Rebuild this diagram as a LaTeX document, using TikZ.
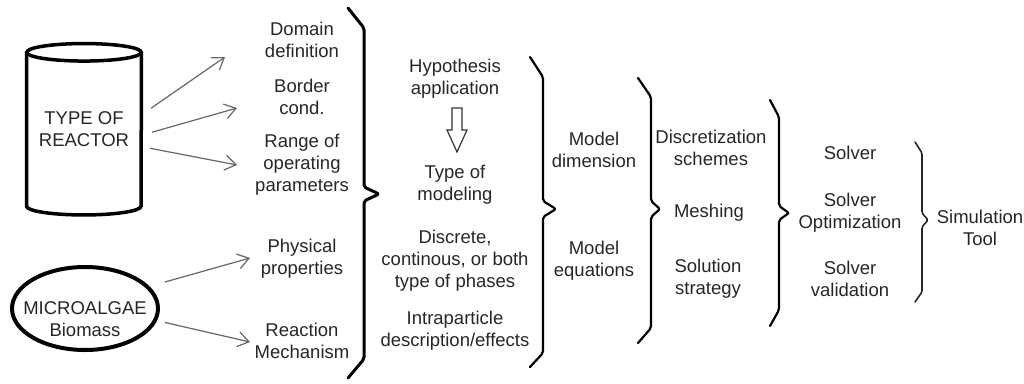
\documentclass[tikz,border=0pt]{standalone}
\usepackage{fontspec}
\setmainfont{Liberation Sans}
\usetikzlibrary{arrows.meta,shapes.geometric,calc}
\begin{document}
\begin{tikzpicture}[x=1pt,y=-1pt,
  txt/.style={font=\fontsize{18.5}{22}\selectfont, align=center, inner sep=0pt, text=black!85},
  arr/.style={draw=black!60, line width=1.2pt, -{Straight Barb[length=11pt,width=15pt,line width=1.2pt]}},
  brace1/.style={draw=black, line width=3pt, rounded corners=2pt, line cap=round, line join=round},
  brace2/.style={draw=black, line width=2.2pt, rounded corners=2pt, line cap=round, line join=round},
  brace3/.style={draw=black!85, line width=1.6pt, rounded corners=1.5pt, line cap=round, line join=round},
  thickline/.style={draw=black, line width=3.5pt}]
\useasboundingbox (0,0) rectangle (1024,383);

% Type of reactor (cylinder)
\node[txt, minimum width=114.5pt, minimum height=153.5pt] (reactor) at (84,129.25) {TYPE OF\\REACTOR};
\draw[thickline] (reactor.north west) -- (reactor.south west)
  arc[start angle=180, end angle=360, x radius=57.25pt, y radius=8.75pt] -- (reactor.north east);
\draw[thickline] (reactor.north) ellipse[x radius=57.25pt, y radius=8.75pt];

% Microalgae ellipse
\node[ellipse, draw=black, line width=4pt, minimum width=146pt, minimum height=83pt, inner sep=0pt] (algae) at (85,308.5) {};
\node[txt] (algaetext) at (85,319) {MICROALGAE\\Biomass};

% Column 1
\node[txt] (domain) at (302,40) {Domain\\definition};
\node[txt] (border) at (302,97) {Border\\cond.};
\node[txt] (range) at (302,165) {Range of\\operating\\parameters};
\node[txt] (phys) at (302,259) {Physical\\properties};
\node[txt] (reaction) at (302,341) {Reaction\\Mechanism};

% Arrows
\draw[arr] ($(reactor)+(67,-21)$) -- ($(domain)+(-77,17)$);
\draw[arr] ($(reactor)+(68,3)$) -- ($(border)+(-65,11)$);
\draw[arr] ($(reactor)+(66,19)$) -- ($(range)+(-65,0)$);
\draw[arr] ($(algae)+(80,-26.5)$) -- ($(phys)+(-52,-1)$);
\draw[arr] ($(algae)+(80,14)$) -- ($(reaction)+(-52,1)$);

% Brace 1
\draw[brace1] (348,8) -- (364,28) -- (364,187) -- (379,194) -- (364,201) -- (364,359) -- (348,378);

% Column 2
\node[txt] (hyp) at (455,79) {Hypothesis\\application};
\node[txt] (typeof) at (455,185) {Type of\\modeling};
\node[txt] (discrete) at (455,261) {Discrete,\\continous, or both\\type of phases};
\node[txt] (intra) at (455,331) {Intraparticle\\description/effects};
\draw[draw=black!80, line width=1.2pt, line join=miter]
  (452,108) -- (462,108) -- (462,130) -- (467,130) -- (457,152) -- (447,130) -- (452,130) -- cycle;

% Brace 2
\draw[brace2] (530,57) -- (543,77) -- (543,201) -- (556,209) -- (543,217) -- (543,353) -- (530,367);

% Column 3
\node[txt] (mdim) at (594,150) {Model\\dimension};
\node[txt] (meq) at (594,261) {Model\\equations};

% Brace 3
\draw[brace2] (638,78) -- (651,97) -- (651,201) -- (660,209) -- (651,217) -- (651,328) -- (638,343);

% Column 4
\node[txt] (disc) at (711,148) {Discretization\\schemes};
\node[txt] (mesh) at (709,213) {Meshing};
\node[txt] (sol) at (708,279) {Solution\\strategy};

% Brace 4
\draw[brace2] (770,100) -- (779,117) -- (779,206) -- (789,213) -- (779,220) -- (779,310) -- (770,326);

% Column 5
\node[txt] (solver) at (850,153) {Solver};
\node[txt] (solopt) at (850,213) {Solver\\Optimization};
\node[txt] (solval) at (850,279) {Solver\\validation};

% Brace 5
\draw[brace3] (915,142) -- (922,153) -- (922,213) -- (928,220) -- (922,227) -- (922,292) -- (915,302);

% Column 6
\node[txt] (sim) at (980,228) {Simulation\\Tool};
\end{tikzpicture}
\end{document}
